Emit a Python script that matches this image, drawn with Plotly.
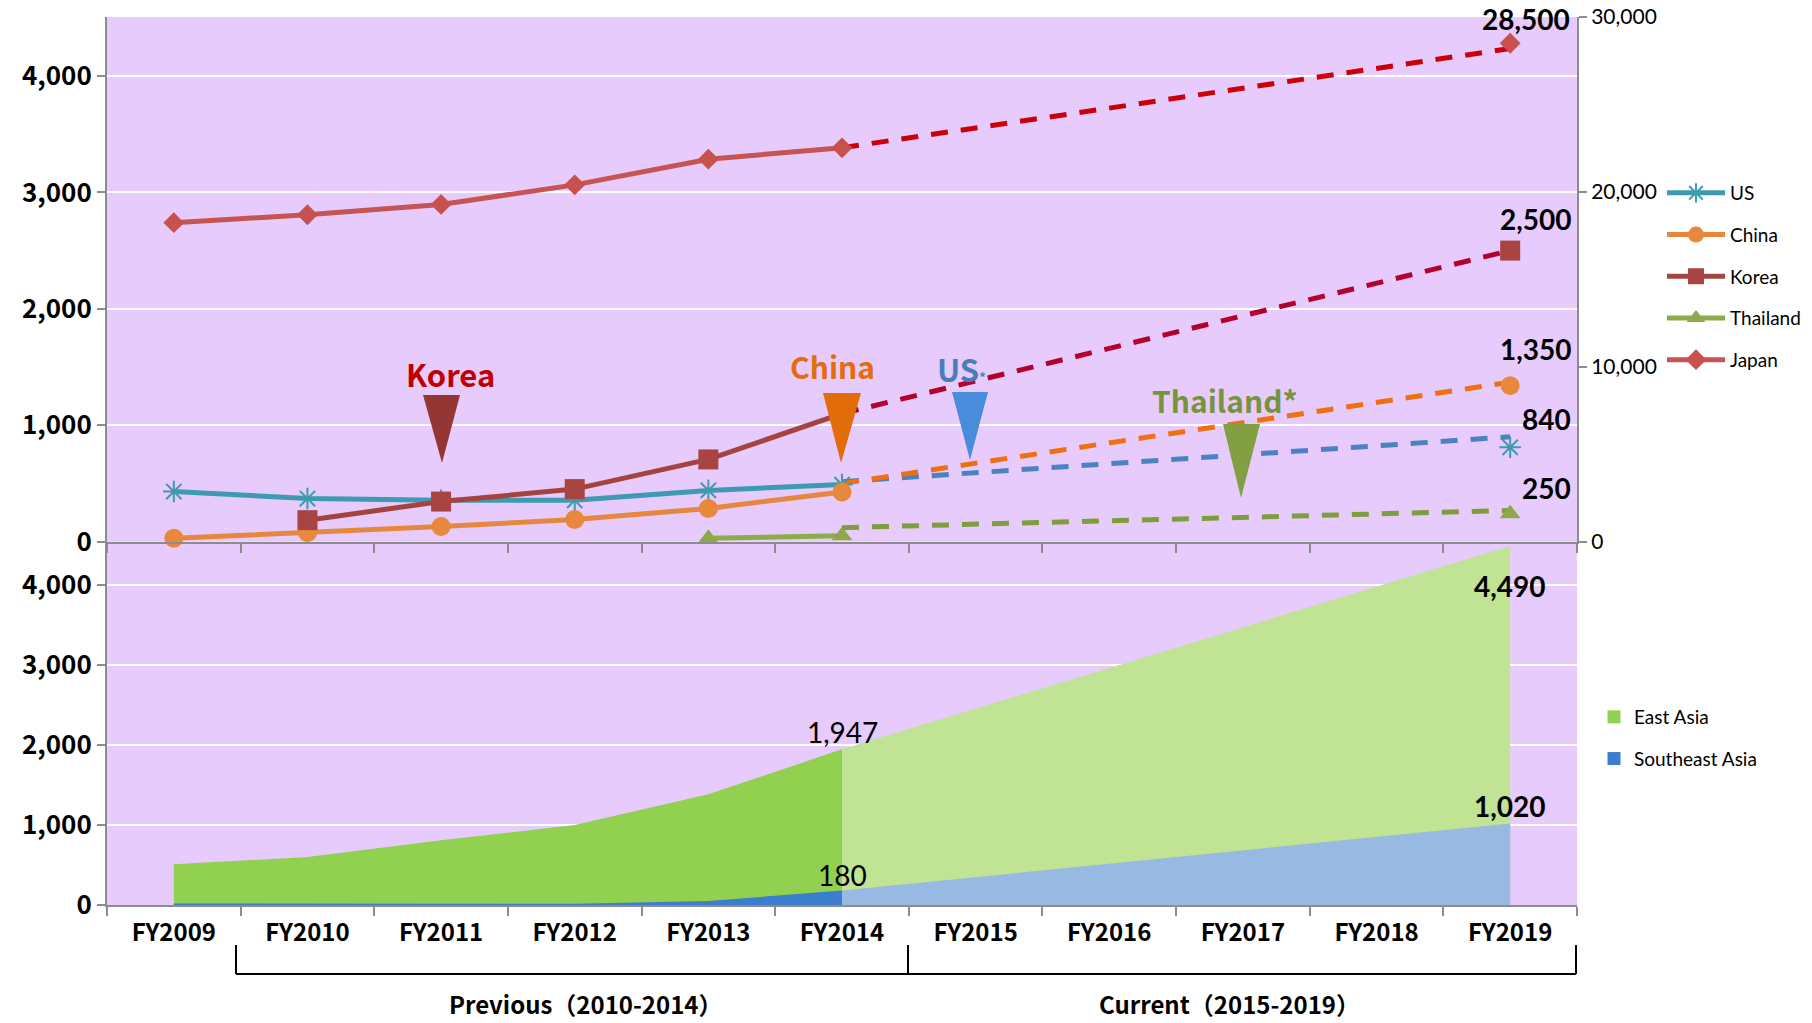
import plotly.graph_objects as go

# ---------------- data ----------------
years = ["FY2009", "FY2010", "FY2011", "FY2012", "FY2013", "FY2014",
         "FY2015", "FY2016", "FY2017", "FY2018", "FY2019"]

us = [430, 370, 355, 355, 440, 490, None, None, None, None, 810]
china = [28, 77, 129, 190, 285, 426, None, None, None, None, 1340]
korea = [None, 184, 344, 451, 706, 1100, None, None, None, None, 2500]
thailand = [None, None, None, None, 28, 50, None, None, None, None, 240]
japan = [18240, 18690, 19280, 20400, 21870, 22520, None, None, None, None, 28500]

# dashed target lines FY2014 -> FY2019
us_trend = [515, 900]
china_trend = [500, 1370]
korea_trend = [1100, 2500]
thailand_trend = [120, 267]
japan_trend = [22520, 28200]

# FY2019 targets written on the chart
target_labels = {"Japan": 28500, "Korea": 2500, "China": 1350, "US": 840, "Thailand": 250}

east_asia = [510, 600, 810, 1000, 1385, 1947, None, None, None, None, 4490]
southeast_asia = [20, 20, 12, 15, 50, 180, None, None, None, None, 1020]

# ---------------- helpers (pixel -> paper) ----------------
L, R, T, B = 107, 1577, 17, 905
PW, PH = R - L, B - T


def px(x):
    return (x - L) / PW


def py(y):
    return (B - y) / PH


split = py(541.6)

JP = "Noto Sans CJK JP"
CAL = "Lato, Carlito, sans-serif"

fig = go.Figure()

# ---------------- bottom panel: areas ----------------
hist = slice(0, 6)
fc = [5, 10]
fig.add_trace(go.Scatter(x=years[hist], y=east_asia[hist], mode="lines", fill="tozeroy",
                         line=dict(width=0, color="#92D050"), fillcolor="#92D050",
                         showlegend=False, xaxis="x", yaxis="y", hoverinfo="skip"))
fig.add_trace(go.Scatter(x=[years[i] for i in fc], y=[east_asia[i] for i in fc], mode="lines",
                         fill="tozeroy", line=dict(width=0, color="#C0E394"), fillcolor="#C0E394",
                         showlegend=False, xaxis="x", yaxis="y", hoverinfo="skip"))
fig.add_trace(go.Scatter(x=years[hist], y=southeast_asia[hist], mode="lines", fill="tozeroy",
                         line=dict(width=0, color="#3B7DCF"), fillcolor="#3B7DCF",
                         showlegend=False, xaxis="x", yaxis="y", hoverinfo="skip"))
fig.add_trace(go.Scatter(x=[years[i] for i in fc], y=[southeast_asia[i] for i in fc], mode="lines",
                         fill="tozeroy", line=dict(width=0, color="#97B9E2"), fillcolor="#97B9E2",
                         showlegend=False, xaxis="x", yaxis="y", hoverinfo="skip"))
# legend entries for areas
fig.add_trace(go.Scatter(x=[None], y=[None], mode="markers", name="East Asia",
                         marker=dict(symbol="square", size=13, color="#92D050"),
                         xaxis="x", yaxis="y", legend="legend2", legendgroup="ea"))
fig.add_trace(go.Scatter(x=[None], y=[None], mode="markers", name="Southeast Asia",
                         marker=dict(symbol="square", size=13, color="#3B7DCF"),
                         xaxis="x", yaxis="y", legend="legend2", legendgroup="sea"))

# ---------------- top panel: dashed trends ----------------
trend_specs = [
    (us_trend, "#4B82C0", "y2"),
    (china_trend, "#EE7010", "y2"),
    (korea_trend, "#B3002C", "y2"),
    (thailand_trend, "#7E9D3C", "y2"),
    (japan_trend, "#CC0008", "y3"),
]
for vals, col, ya in trend_specs:
    fig.add_trace(go.Scatter(x=[years[5], years[10]], y=vals, mode="lines",
                             line=dict(color=col, width=5, dash="17px,13px"),
                             showlegend=False, xaxis="x2", yaxis=ya, hoverinfo="skip",
                             cliponaxis=False))

# ---------------- top panel: series ----------------
series = [
    ("US", us, "#3E9AB0", dict(symbol="asterisk-open", size=18, line=dict(width=2, color="#3E9AB0")), "y2"),
    ("China", china, "#E5883E", dict(symbol="circle", size=19, color="#E8883C"), "y2"),
    ("Korea", korea, "#A5443F", dict(symbol="square", size=20, color="#A84442"), "y2"),
    ("Thailand", thailand, "#8CAC4C", dict(symbol="triangle-up", size=18, color="#8CA94C"), "y2"),
    ("Japan", japan, "#C65452", dict(symbol="diamond", size=16, color="#C8504D"), "y3"),
]
for i, (name, vals, col, mk, ya) in enumerate(series):
    fig.add_trace(go.Scatter(x=years, y=vals, mode="lines+markers", name=name,
                             line=dict(color=col, width=5), marker=mk,
                             connectgaps=False, xaxis="x2", yaxis=ya, cliponaxis=False,
                             legend="legend", legendgroup=name))

# ---------------- shapes: callout triangles & brackets ----------------
shapes = []
tri = [
    (423, 460, 395, 442, 463, "#943634"),
    (823, 861, 393, 841, 463, "#E26B0A"),
    (952, 988, 392, 970, 460, "#4A8CDC"),
    (1223, 1260, 424, 1241, 498, "#82A042"),
]
for xl, xr, yt, xt, yb, col in tri:
    shapes.append(dict(type="path", xref="paper", yref="paper",
                       path=f"M{px(xl)},{py(yt)} L{px(xr)},{py(yt)} L{px(xt)},{py(yb)} Z",
                       fillcolor=col, line=dict(width=0), layer="above"))

br_top, br_bot = 945, 974
for x0 in (236, 908, 1576):
    shapes.append(dict(type="line", xref="paper", yref="paper",
                       x0=px(x0), x1=px(x0), y0=py(br_top), y1=py(br_bot),
                       line=dict(color="black", width=2)))
shapes.append(dict(type="line", xref="paper", yref="paper",
                   x0=px(236), x1=px(1576), y0=py(br_bot), y1=py(br_bot),
                   line=dict(color="black", width=2)))

# ---------------- annotations ----------------
ann = []
callouts = [
    ("Korea", 450, 373, "#C00000", 31),
    ("China", 832, 366, "#E46C0A", 30),
    ("US<span style='font-size:13px'>*</span>", 961, 368, "#4A7EBB", 31),
    ("Thailand*", 1225, 400, "#77933C", 30),
]
for txt, x, y, col, sz in callouts:
    ann.append(dict(text=txt, xref="paper", yref="paper", x=px(x), y=py(y),
                    xanchor="center", yanchor="middle", showarrow=False,
                    font=dict(family=JP, size=sz, color=col, weight="bold")))

# FY2019 target labels (top panel)
lab = [
    ("Japan", "y3", japan[10], 16, 24),
    ("Korea", "y2", korea[10], 26, 32),
    ("China", "y2", china[10], 26, 37),
    ("US", "y2", us[10], 36, 28),
    ("Thailand", "y2", thailand[10], 36, 26),
]
for key, ya, yv, xs, ys in lab:
    ann.append(dict(text=f"{target_labels[key]:,}", x=years[10], y=yv, xref="x2", yref=ya,
                    xshift=xs, yshift=ys, showarrow=False, xanchor="center", yanchor="middle",
                    font=dict(family=CAL, size=28, color="black", weight="bold")))

# bottom panel labels
ann.append(dict(text=f"{east_asia[10]:,}", x=years[10], y=east_asia[10], xref="x", yref="y",
                yshift=-40, showarrow=False, yanchor="middle",
                font=dict(family=CAL, size=28, color="black", weight="bold")))
ann.append(dict(text=f"{southeast_asia[10]:,}", x=years[10], y=southeast_asia[10], xref="x", yref="y",
                yshift=17, showarrow=False, yanchor="middle",
                font=dict(family=CAL, size=28, color="black", weight="bold")))
ann.append(dict(text=f"{east_asia[5]:,}", x=years[5], y=east_asia[5], xref="x", yref="y",
                yshift=17, showarrow=False, yanchor="middle",
                font=dict(family=CAL, size=28, color="black")))
ann.append(dict(text=f"{southeast_asia[5]:,}", x=years[5], y=southeast_asia[5], xref="x", yref="y",
                yshift=16, showarrow=False, yanchor="middle",
                font=dict(family=CAL, size=28, color="black")))

# bracket captions
ann.append(dict(text="Previous（2010-2014）", xref="paper", yref="paper", x=px(586), y=py(1003),
                showarrow=False, xanchor="center", yanchor="middle",
                font=dict(family=JP, size=24, color="black", weight="bold")))
ann.append(dict(text="Current（2015-2019）", xref="paper", yref="paper", x=px(1229), y=py(1003),
                showarrow=False, xanchor="center", yanchor="middle",
                font=dict(family=JP, size=24, color="black", weight="bold")))

AXC = "#8C8C8C"
tickfont_left = dict(family=JP, size=26, color="black", weight="bold")

fig.update_layout(
    width=1812, height=1023,
    margin=dict(l=L, r=1812 - R, t=T, b=1023 - B, autoexpand=False),
    paper_bgcolor="white", plot_bgcolor="#E7CBFC",
    font=dict(family=CAL, color="black"),
    shapes=shapes, annotations=ann,
    xaxis=dict(domain=[0, 1], anchor="y", type="category", categoryorder="array", categoryarray=years,
               range=[-0.5, 10.5], showline=True, linecolor=AXC, linewidth=2,
               ticks="outside", tickson="boundaries", ticklen=9, tickcolor=AXC, tickwidth=2,
               showgrid=False, automargin=False, ticklabelstandoff=5,
               tickfont=dict(family=JP, size=24, color="black", weight="bold")),
    xaxis2=dict(domain=[0, 1], anchor="y2", type="category", categoryorder="array", categoryarray=years,
                range=[-0.5, 10.5], showline=True, linecolor=AXC, linewidth=2, matches="x",
                ticks="outside", tickson="boundaries", ticklen=9, tickcolor=AXC, tickwidth=2,
                showgrid=False, showticklabels=False, automargin=False),
    yaxis=dict(domain=[0, split], anchor="x", range=[0, 4545], dtick=1000, tickformat=",",
               showgrid=True, gridcolor="white", gridwidth=2, zeroline=False, automargin=False,
               showline=True, linecolor=AXC, linewidth=2, ticks="outside", ticklen=8,
               tickcolor=AXC, tickwidth=2, tickfont=tickfont_left),
    yaxis2=dict(domain=[split, 1], anchor="x2", range=[0, 4507], dtick=1000, tickformat=",",
                showgrid=True, gridcolor="white", gridwidth=2, zeroline=False, automargin=False,
                showline=True, linecolor=AXC, linewidth=2, ticks="outside", ticklen=8,
                tickcolor=AXC, tickwidth=2, tickfont=tickfont_left),
    yaxis3=dict(overlaying="y2", side="right", anchor="x2", range=[0, 30000], dtick=10000,
                tickformat=",", showgrid=False, zeroline=False, automargin=False,
                showline=True, linecolor=AXC, linewidth=2, ticks="outside", ticklen=8,
                tickcolor=AXC, tickwidth=2, tickfont=dict(family=CAL, size=21, color="black")),
    legend=dict(x=px(1662), y=py(174), xanchor="left", yanchor="top", bgcolor="rgba(0,0,0,0)",
                itemwidth=58, tracegroupgap=14, traceorder="grouped",
                font=dict(family=CAL, size=19, color="black")),
    legend2=dict(x=px(1594), y=py(698), xanchor="left", yanchor="top", bgcolor="rgba(0,0,0,0)",
                 itemwidth=30, tracegroupgap=14, traceorder="grouped",
                 font=dict(family=CAL, size=19, color="black")),
)

fig.write_html("out.html")
